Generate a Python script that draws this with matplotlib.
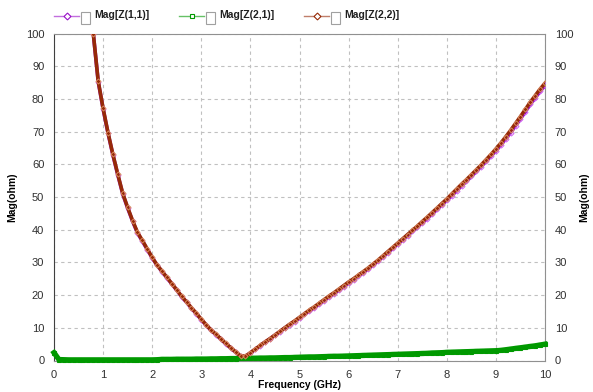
import matplotlib
matplotlib.use('Agg')
import matplotlib.pyplot as plt
from matplotlib.lines import Line2D
from matplotlib.patches import Rectangle
import numpy as np

plt.rcParams['font.family'] = ['Liberation Sans', 'DejaVu Sans']

# frequency grid (GHz) of the Z(1,1)/Z(2,2) traces, 0.8 .. 10 in 0.1 steps
freq_z = np.round(np.arange(0.8, 10.001, 0.1), 2)
z22 = [100, 85.5, 77.1, 69.7, 63.0, 56.9, 51.1, 46.8, 42.8, 39.2,
       36.7, 34.1, 31.5, 29.2, 27.3, 25.4, 23.5, 21.6, 19.6, 17.9,
       16.1, 14.4, 12.6, 10.9, 9.3, 8.0, 6.6, 5.2, 3.9, 2.6,
       1.4, 1.3, 2.4, 3.5, 4.6, 5.7, 6.7, 7.8, 8.9, 10.0,
       11.1, 12.1, 13.2, 14.3, 15.4, 16.4, 17.5, 18.6, 19.7, 20.7,
       21.8, 22.9, 24.0, 25.0, 26.1, 27.2, 28.3, 29.5, 30.7, 32.0,
       33.3, 34.6, 35.9, 37.2, 38.5, 39.8, 41.1, 42.5, 43.8, 45.2,
       46.6, 48.0, 49.4, 50.9, 52.4, 53.9, 55.3, 56.8, 58.3, 59.8,
       61.4, 63.0, 64.7, 66.5, 68.4, 70.4, 72.5, 74.6, 76.8, 79.0,
       81.0, 83.0, 84.8]
z11 = [100, 85.3, 76.9, 69.5, 62.8, 56.7, 50.9, 46.6, 42.6, 39.0,
       36.5, 33.9, 31.4, 29.1, 27.2, 25.3, 23.4, 21.5, 19.5, 17.8,
       16.0, 14.3, 12.5, 10.8, 9.2, 7.9, 6.5, 5.1, 3.8, 2.5,
       1.3, 1.2, 2.3, 3.4, 4.5, 5.6, 6.6, 7.7, 8.8, 9.9,
       10.9, 11.9, 13.0, 14.1, 15.1, 16.1, 17.2, 18.3, 19.4, 20.4,
       21.5, 22.6, 23.7, 24.7, 25.8, 26.9, 28.0, 29.2, 30.4, 31.7,
       33.0, 34.3, 35.6, 36.9, 38.2, 39.5, 40.8, 42.1, 43.4, 44.8,
       46.2, 47.6, 49.0, 50.4, 51.9, 53.4, 54.8, 56.3, 57.8, 59.3,
       60.9, 62.5, 64.1, 65.9, 67.8, 69.7, 71.8, 73.9, 76.1, 78.3,
       80.3, 82.3, 84.1]

# Z(2,1) trace, 0 .. 10 GHz in 0.1 steps
freq_21 = np.round(np.arange(0, 10.001, 0.1), 2)
z21 = [2.4, 0.3, 0.25, 0.2, 0.2, 0.2, 0.2, 0.2, 0.2, 0.2,
       0.2, 0.2, 0.2, 0.2, 0.2, 0.2, 0.2, 0.2, 0.2, 0.2,
       0.2, 0.25, 0.35, 0.35, 0.35, 0.4, 0.4, 0.4, 0.4, 0.45,
       0.45, 0.45, 0.5, 0.5, 0.55, 0.55, 0.6, 0.6, 0.65, 0.65,
       0.7, 0.7, 0.75, 0.75, 0.8, 0.8, 0.85, 0.9, 0.9, 0.95,
       1.0, 1.05, 1.1, 1.1, 1.15, 1.2, 1.25, 1.3, 1.3, 1.35,
       1.4, 1.45, 1.5, 1.55, 1.6, 1.65, 1.7, 1.75, 1.8, 1.85,
       1.9, 1.95, 2.0, 2.05, 2.1, 2.15, 2.2, 2.3, 2.35, 2.4,
       2.5, 2.55, 2.6, 2.65, 2.7, 2.75, 2.8, 2.85, 2.9, 2.95,
       3.0, 3.1, 3.3, 3.5, 3.7, 3.9, 4.1, 4.3, 4.5, 4.75,
       5.0]

labels = ['Mag[Z(1,1)]', 'Mag[Z(2,1)]', 'Mag[Z(2,2)]']

fig = plt.figure(figsize=(5.93, 3.92), dpi=100)
ax = fig.add_axes([54/593, 31.5/392, 491/593, 327/392])

c11 = '#9A10C8'
c21 = '#009900'
c22 = '#962A08'

ax.plot(freq_z, z11, color=c11, lw=2.6, marker='D', ms=2.6,
        mfc='none', mec='#D060F0', mew=0.7, zorder=3)
ax.plot(freq_21, z21, color=c21, lw=3.8, marker='s', ms=2.5,
        mfc='none', mec=c21, mew=0.8, zorder=3, clip_on=False)
ax.plot(freq_z, z22, color=c22, lw=2.6, marker='D', ms=2.6,
        mfc='none', mec='#D88A60', mew=0.7, zorder=4)

ax.set_xlim(0, 10)
ax.set_ylim(0, 100)
ax.set_xticks(range(0, 11))
ax.set_yticks(range(0, 101, 10))
ax.grid(True, color='#C0C0C0', ls=(0, (3, 3)), lw=0.8)
ax.tick_params(length=0, labelsize=8, colors='#303030', pad=7)
for s in ['top', 'right', 'bottom']:
    ax.spines[s].set_color('#909090')
ax.spines['left'].set_color('#404040')
ax.set_xlabel('Frequency (GHz)', fontsize=7.5, fontweight='bold', labelpad=0)
ax.set_ylabel('Mag(ohm)', fontsize=7.5, fontweight='bold', labelpad=6)

ax2 = ax.twinx()
ax2.set_ylim(0, 100)
ax2.set_yticks(range(0, 101, 10))
ax2.tick_params(length=0, labelsize=8, colors='#303030', pad=7)
for s in ax2.spines.values():
    s.set_visible(False)
ax2.set_ylabel('Mag(ohm)', fontsize=7.5, fontweight='bold', labelpad=4,
               rotation=90)

# legend strip along the top
legend_x = [54, 179, 304]
styles = [(c11, '#D060F0', 'D'), (c21, c21, 's'), (c22, '#E09070', 'D')]
H = 392.0
W = 593.0
for x0, lab, (lc, mc, mk) in zip(legend_x, labels, styles):
    y = 1 - 15.5 / H
    fig.add_artist(Line2D([x0 / W, (x0 + 25) / W], [y, y], color=lc,
                          lw=1, alpha=0.6, transform=fig.transFigure))
    fig.add_artist(Line2D([(x0 + 12.5) / W], [y], color=lc, marker=mk,
                          ms=3.5, mfc='white', mec=lc, mew=0.8,
                          transform=fig.transFigure))
    fig.add_artist(Rectangle(((x0 + 27) / W, 1 - 24 / H), 9 / W, 12 / H,
                             fill=False, ec='#A0A0A0', lw=0.8,
                             transform=fig.transFigure))
    fig.text((x0 + 40) / W, y, lab, fontsize=7.5, fontweight='bold',
             va='center', ha='left', color='#202020')

fig.savefig('out.png', dpi=100)
